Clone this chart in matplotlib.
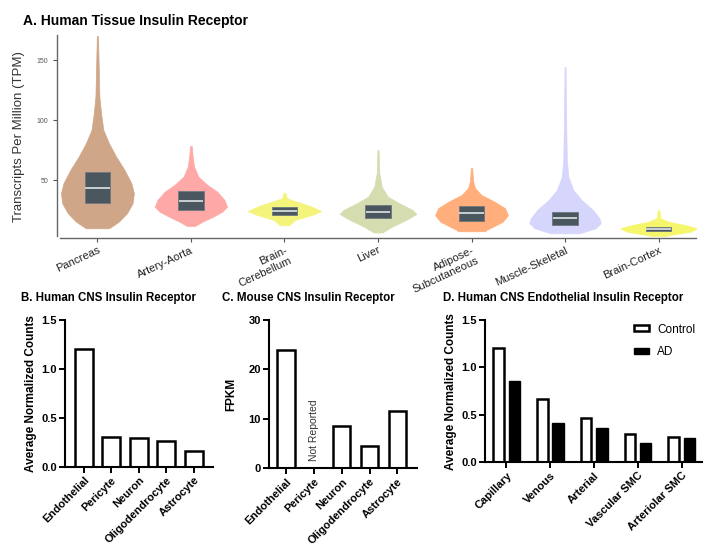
import numpy as np
import matplotlib
matplotlib.use("Agg")
import matplotlib.pyplot as plt
from matplotlib.patches import Patch

plt.rcParams['font.family'] = ['Liberation Sans', 'DejaVu Sans']

# ---------------- Panel A data (violin profiles) ----------------
tissues = ["Pancreas", "Artery-Aorta", "Brain-\nCerebellum", "Liver",
           "Adipose-\nSubcutaneous", "Muscle-Skeletal", "Brain-Cortex"]

pancreas_tpm = [10, 15.5, 22.5, 30.8, 39.2, 47.5, 58.6, 69.7, 80.8, 91.9, 105.8, 119.7, 147.5, 170]
pancreas_den = [11.7, 21.7, 30, 35.7, 37, 34.5, 27.5, 19, 11.7, 6, 3.7, 2, 1.2, 0.6]

artery_tpm = [11.9, 15.5, 19.7, 23.8, 28, 33.6, 40.5, 46.1, 53, 61.4, 69.7, 78.6]
artery_den = [4, 11.7, 22.5, 31.7, 36.7, 34, 26.7, 16.7, 7.5, 3.2, 1.8, 0.8]

cerebellum_tpm = [12.5, 12.75, 16.9, 21, 24.4, 28.6, 32.2, 35, 39.7]
cerebellum_den = [4.5, 5, 10.8, 27.5, 37.5, 25.8, 12.5, 2.5, 0.8]

liver_tpm = [6.5, 7.2, 11.3, 16.9, 21.9, 25.3, 30.8, 36.3, 44.7, 55.8, 75.2]
liver_den = [5, 5.8, 14.2, 28.3, 39, 35, 21.7, 10, 3.8, 1.3, 0.6]

adipose_tpm = [7.5, 8.6, 11.3, 15.5, 21, 26.7, 32.2, 37.75, 43.3, 48.8, 60.5]
adipose_den = [14, 15, 21.7, 31.7, 37, 34, 23.3, 10, 3.7, 1.7, 0.6]

muscle_tpm = [5.8, 6.3, 10, 14.2, 18.3, 25.25, 33.6, 41.9, 53, 66.9, 94.7, 144.2]
muscle_den = [14, 16.7, 30.8, 36.3, 35, 28.3, 16.7, 8.3, 3.3, 1.8, 1.2, 0.5]

cortex_tpm = [3.6, 5, 7.2, 10, 12.75, 15.5, 18.3, 25.25]
cortex_den = [6.7, 16.7, 32.5, 39, 26.7, 10, 2, 0.6]

q1 = [30.8, 25.2, 21.3, 18.9, 16.3, 12.75, 8.0]
medians = [43.3, 33.0, 24.4, 23.8, 22.5, 18.3, 9.7]
q3 = [57.2, 41.3, 27.5, 29.4, 28.6, 23.8, 11.4]

violin_colors = ["#cfa688", "#ffa8a8", "#f4f47c", "#d5ddb0", "#ffae7c", "#d6d5fb", "#f6f66c"]

# ---------------- Panel B data ----------------
cells_b = ["Endothelial", "Pericyte", "Neuron", "Oligodendrocyte", "Astrocyte"]
counts_b = [1.2, 0.30, 0.29, 0.265, 0.165]

# ---------------- Panel C data ----------------
cells_c = ["Endothelial", "Pericyte", "Neuron", "Oligodendrocyte", "Astrocyte"]
fpkm_c = [24.0, np.nan, 8.5, 4.5, 11.6]

# ---------------- Panel D data ----------------
vessels = ["Capillary", "Venous", "Arterial", "Vascular SMC", "Arteriolar SMC"]
control_d = [1.2, 0.665, 0.47, 0.30, 0.263]
ad_d = [0.855, 0.415, 0.365, 0.20, 0.253]

W, H = 713, 549
fig = plt.figure(figsize=(W / 100, H / 100), dpi=100)


def box(l, r, b, t):
    return [l / W, 1 - b / H, (r - l) / W, (b - t) / H]


# ================= Panel A =================
axA = fig.add_axes(box(60, 696, 238, 35))
profiles = [(pancreas_tpm, pancreas_den), (artery_tpm, artery_den),
            (cerebellum_tpm, cerebellum_den), (liver_tpm, liver_den),
            (adipose_tpm, adipose_den), (muscle_tpm, muscle_den),
            (cortex_tpm, cortex_den)]
SCALE = 0.4 / 38.0
vpstats = []
widths = []
for (y, d), med in zip(profiles, medians):
    y = np.asarray(y, float)
    d = np.asarray(d, float)
    vpstats.append(dict(coords=y, vals=d, mean=med, median=med, min=y.min(), max=y.max()))
    widths.append(2 * d.max() * SCALE)
pos = np.arange(len(tissues))
parts = axA.violin(vpstats, positions=pos, widths=widths, showmeans=False,
                   showextrema=False, showmedians=False)
for body, c in zip(parts['bodies'], violin_colors):
    body.set_facecolor(c)
    body.set_edgecolor(c)
    body.set_linewidth(0.5)
    body.set_alpha(1)
axA.bar(pos, np.array(q3) - np.array(q1), bottom=q1, width=0.27, color="#4b575f",
        edgecolor="#6d7880", linewidth=0.6, zorder=3)
axA.hlines(medians, pos - 0.13, pos + 0.13, color="#d4dadd", linewidth=1.3, zorder=4)
axA.set_xlim(-0.4, 6.4)
axA.set_ylim(1.9, 171)
axA.set_yticks([50, 100, 150])
axA.set_xticks(pos)
axA.set_xticklabels(tissues, rotation=25, ha='right', rotation_mode='anchor',
                    fontsize=8, color="#222222")
axA.tick_params(axis='y', labelsize=5, colors="#555555", length=3, width=0.8)
axA.tick_params(axis='x', length=3, width=0.8, color="#555555", pad=2)
for s in ['top', 'right']:
    axA.spines[s].set_visible(False)
axA.spines['left'].set_position(('outward', 2))
axA.spines['left'].set_bounds(3.5, 171)
for s in ['left', 'bottom']:
    axA.spines[s].set_color("#666666")
    axA.spines[s].set_linewidth(1.0)
axA.set_ylabel("Transcripts Per Million (TPM)", fontsize=9.5, color="#333333", labelpad=8)
fig.text(23 / W, 1 - 25 / H, "A. Human Tissue Insulin Receptor", fontsize=10,
         fontweight='bold', ha='left', va='baseline')


def style_bar_axes(ax):
    for s in ['top', 'right']:
        ax.spines[s].set_visible(False)
    for s in ['left', 'bottom']:
        ax.spines[s].set_linewidth(1.5)
    ax.tick_params(direction='out', length=4, width=1.4, labelsize=8, pad=2)
    for lab in ax.get_yticklabels():
        lab.set_fontweight('bold')


# ================= Panel B =================
axB = fig.add_axes(box(65, 213, 466.7, 320))
xb = np.arange(len(cells_b))
axB.bar(xb, counts_b, width=0.64, color='white', edgecolor='black', linewidth=1.8)
axB.set_xlim(-0.68, 4.7)
axB.set_ylim(0, 1.5)
axB.set_yticks([0, 0.5, 1.0, 1.5])
axB.set_yticklabels(["0.0", "0.5", "1.0", "1.5"])
axB.set_xticks(xb)
axB.set_xticklabels(cells_b, rotation=45, ha='right', rotation_mode='anchor',
                    fontsize=7.5, fontweight='bold')
style_bar_axes(axB)
axB.set_ylabel("Average Normalized Counts", fontsize=8.5, fontweight='bold', labelpad=3)
fig.text(21 / W, 1 - 300.5 / H, "B. Human CNS Insulin Receptor", fontsize=8.3,
         fontweight='bold', ha='left', va='baseline')

# ================= Panel C =================
axC = fig.add_axes(box(269, 416.7, 468, 320))
xc = np.arange(len(cells_c))
axC.bar(xc, fpkm_c, width=0.63, color='white', edgecolor='black', linewidth=1.8)
axC.text(1, 1.5, "Not Reported", rotation=90, ha='center', va='bottom',
         fontsize=7.5, color="#333333")
axC.set_xlim(-0.62, 4.7)
axC.set_ylim(0, 30)
axC.set_yticks([0, 10, 20, 30])
axC.set_xticks(xc)
axC.set_xticklabels(cells_c, rotation=45, ha='right', rotation_mode='anchor',
                    fontsize=7.5, fontweight='bold')
style_bar_axes(axC)
axC.set_ylabel("FPKM", fontsize=8.5, fontweight='bold', labelpad=8)
fig.text(221.7 / W, 1 - 300.5 / H, "C. Mouse CNS Insulin Receptor", fontsize=8.3,
         fontweight='bold', ha='left', va='baseline')

# ================= Panel D =================
axD = fig.add_axes(box(485, 701.7, 462.3, 320))
xd = np.arange(len(vessels))
axD.bar(xd - 0.18, control_d, width=0.24, color='white', edgecolor='black',
        linewidth=1.8, label='Control')
axD.bar(xd + 0.18, ad_d, width=0.26, color='black', edgecolor='black',
        linewidth=1.0, label='AD')
axD.set_xlim(-0.49, 4.46)
axD.set_ylim(0, 1.5)
axD.set_yticks([0, 0.5, 1.0, 1.5])
axD.set_yticklabels(["0.0", "0.5", "1.0", "1.5"])
axD.set_xticks(xd)
axD.set_xticklabels(vessels, rotation=45, ha='right', rotation_mode='anchor',
                    fontsize=7.5, fontweight='bold')
style_bar_axes(axD)
axD.set_ylabel("Average Normalized Counts", fontsize=8.5, fontweight='bold', labelpad=3)
handles = [Patch(facecolor='white', edgecolor='black', linewidth=1.8),
           Patch(facecolor='black', edgecolor='black')]
axD.legend(handles, ['Control', 'AD'], loc='upper right', frameon=False, fontsize=8.5,
           handlelength=1.3, handleheight=0.45, handletextpad=0.7, labelspacing=0.9,
           bbox_to_anchor=(1.02, 1.05))
fig.text(443.3 / W, 1 - 301 / H, "D. Human CNS Endothelial Insulin Receptor", fontsize=8.3,
         fontweight='bold', ha='left', va='baseline')

fig.savefig("out.png", dpi=100)
